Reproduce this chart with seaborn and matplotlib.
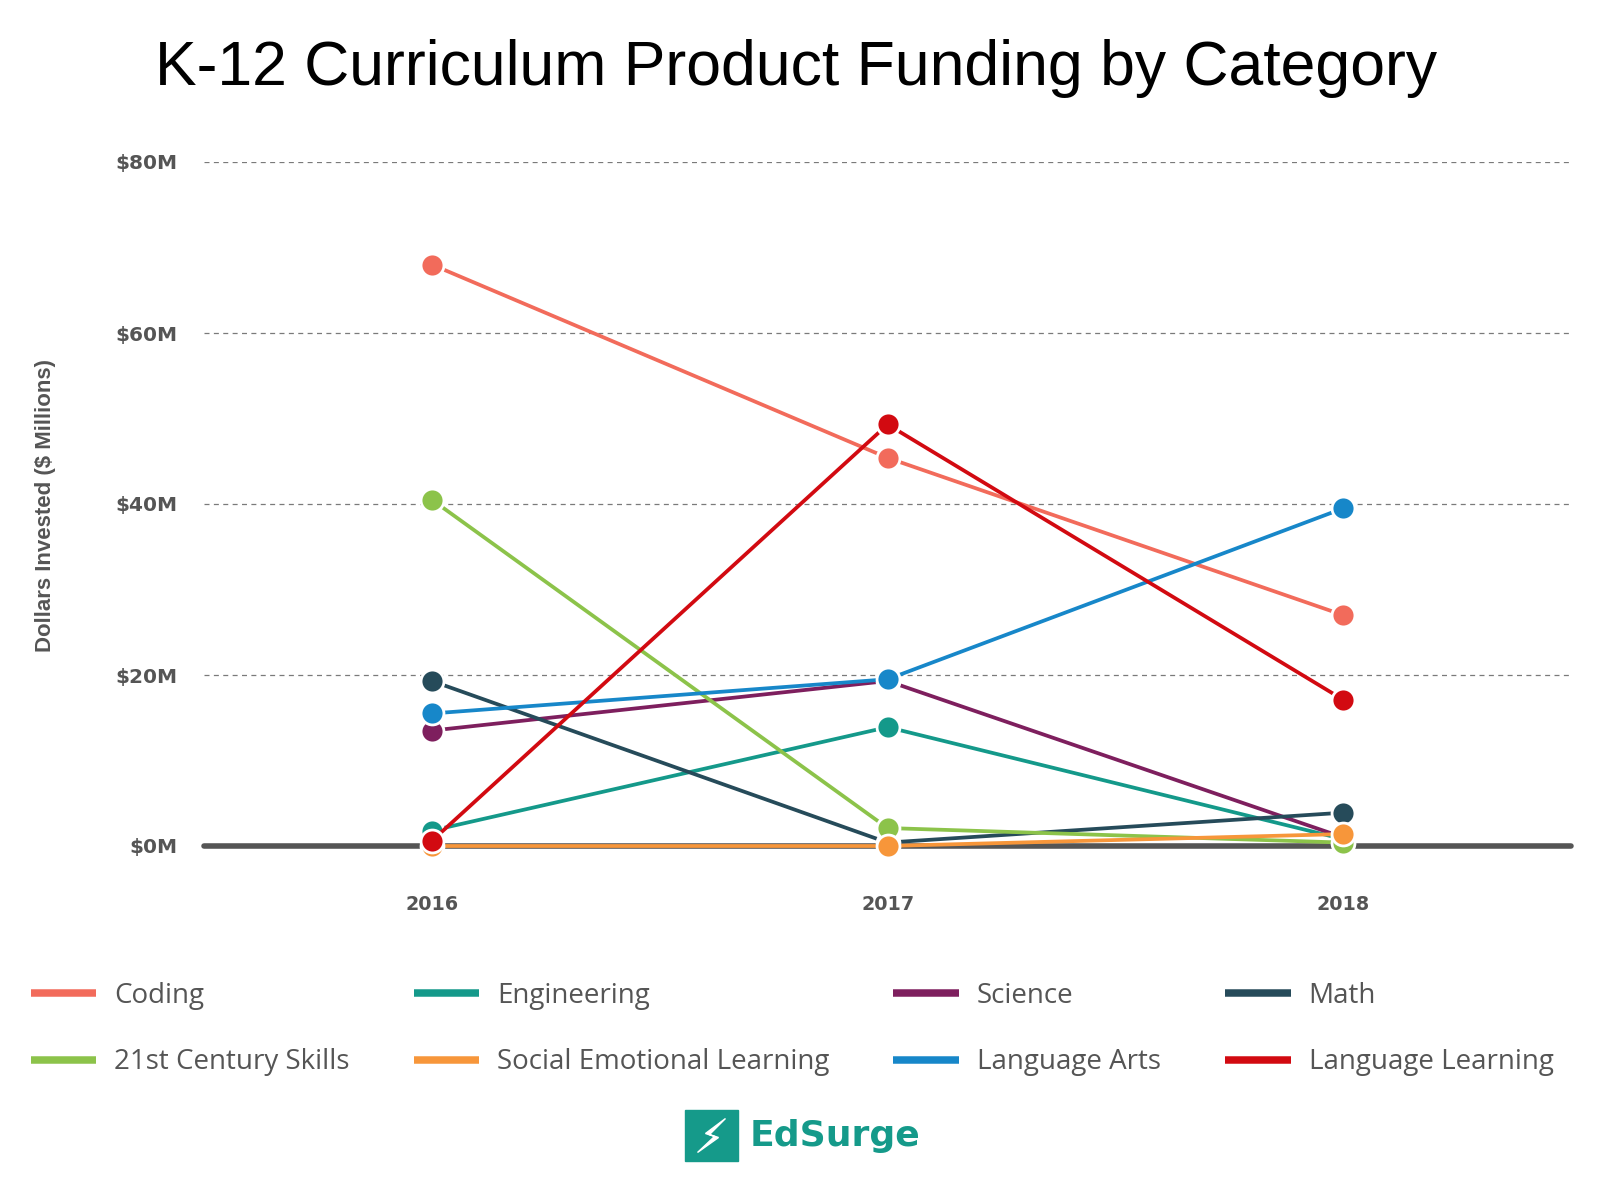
import matplotlib
matplotlib.use("Agg")
import matplotlib.pyplot as plt
import seaborn as sns
import pandas as pd
from matplotlib.lines import Line2D
from matplotlib.patches import Rectangle, Polygon

# ---- data ----
years = [2016, 2017, 2018]
categories = ["Coding", "Engineering", "Science", "Math",
              "21st Century Skills", "Social Emotional Learning",
              "Language Arts", "Language Learning"]
coding = [68.0, 45.4, 27.0]
engineering = [1.8, 13.9, 0.8]
science = [13.5, 19.3, 1.0]
math_ = [19.3, 0.4, 3.9]
skills21 = [40.5, 2.1, 0.4]
sel = [0.0, 0.0, 1.4]
lang_arts = [15.5, 19.5, 39.5]
lang_learning = [0.6, 49.3, 17.1]
colors = ["#F26B5B", "#14998A", "#7E1F5E", "#264B5A",
          "#8CC34A", "#F7963A", "#1787C9", "#D20A11"]
ytick_vals = [0, 20, 40, 60, 80]
ytick_labels = ["$0M", "$20M", "$40M", "$60M", "$80M"]

series = [coding, engineering, science, math_, skills21, sel, lang_arts, lang_learning]
rows = []
for cat, vals in zip(categories, series):
    for y, v in zip(years, vals):
        rows.append({"year": y, "value": v, "category": cat})
df = pd.DataFrame(rows)
palette = dict(zip(categories, colors))

sns.set_theme(style="white")
fig = plt.figure(figsize=(16, 12), dpi=100)
ax = fig.add_axes([0.1275, 0.295, 0.8545, 0.57])

ax.axhline(0, color="#555555", lw=4.0, zorder=1, clip_on=False)
for v in ytick_vals[1:]:
    ax.axhline(v, color="#7a7a7a", lw=0.9, ls=(0, (4, 3.5)), zorder=0.5)

sns.lineplot(data=df, x="year", y="value", hue="category", palette=palette,
             hue_order=categories, marker="o", markersize=16.5,
             markeredgecolor="white", markeredgewidth=2, linewidth=2.7,
             legend=False, ax=ax, clip_on=False, zorder=3)

ax.set_xlim(2015.5, 2018.5)
ax.set_ylim(0, 80)
ax.set_xticks(years)
ax.set_xticklabels([str(y) for y in years])
ax.set_yticks(ytick_vals)
ax.set_yticklabels(ytick_labels)
ax.set_xlabel("")
ax.set_ylabel("")
ax.grid(False)
for s in ax.spines.values():
    s.set_visible(False)
ax.tick_params(axis="x", length=0, pad=35, labelsize=13.8, labelcolor="#555555")
ax.tick_params(axis="y", length=0, pad=19, labelsize=14.5, labelcolor="#555555")
for lab in ax.get_xticklabels() + ax.get_yticklabels():
    lab.set_fontweight("bold")
    lab.set_family("DejaVu Sans")

fig.text(0.4975, 1 - 69 / 1200, "K-12 Curriculum Product Funding by Category",
         ha="center", va="center", fontsize=45, family="Liberation Sans", color="#000000")
fig.text(46 / 1600, 1 - 505 / 1200, "Dollars Invested ($ Millions)", rotation=90,
         ha="center", va="center", fontsize=16, fontweight="bold",
         family="Liberation Sans", color="#555555")

# legend (column-major order for 4 columns x 2 rows)
order = [0, 4, 1, 5, 2, 6, 3, 7]
handles = [Line2D([0], [0], color=colors[i], lw=5.4, solid_capstyle="butt") for i in order]
labels = [categories[i] for i in order]
fs = 20
leg = fig.legend(handles, labels, ncol=4, loc="upper left",
                 bbox_to_anchor=(30.6 / 1600, 1 - 982 / 1200), frameon=False,
                 fontsize=fs, handlelength=2.37, handletextpad=0.64,
                 columnspacing=2.3, labelspacing=1.38, borderpad=0, borderaxespad=0)
for t in leg.get_texts():
    t.set_color("#555555")
    t.set_family("Open Sans")

# EdSurge logo
teal = "#159A8A"
fig.patches.append(Rectangle((685 / 1600, 1 - 1161 / 1200), 53 / 1600, 51 / 1200,
                             transform=fig.transFigure, color=teal, zorder=5))
bx, by = 711.5, 1135.5
bolt = [(bx + 14, by - 17), (bx - 6, by - 2), (bx + 3, by + 1), (bx - 14, by + 17),
        (bx + 7, by + 2), (bx - 2, by - 1)]
fig.patches.append(Polygon([(x / 1600, 1 - y / 1200) for x, y in bolt], closed=True,
                           transform=fig.transFigure, color="white", zorder=6))
fig.text(750 / 1600, 1 - 1136 / 1200, "EdSurge", ha="left", va="center",
         fontsize=26, fontweight="bold", family="DejaVu Sans", color=teal)

fig.savefig("out.png", dpi=100, facecolor="white")
